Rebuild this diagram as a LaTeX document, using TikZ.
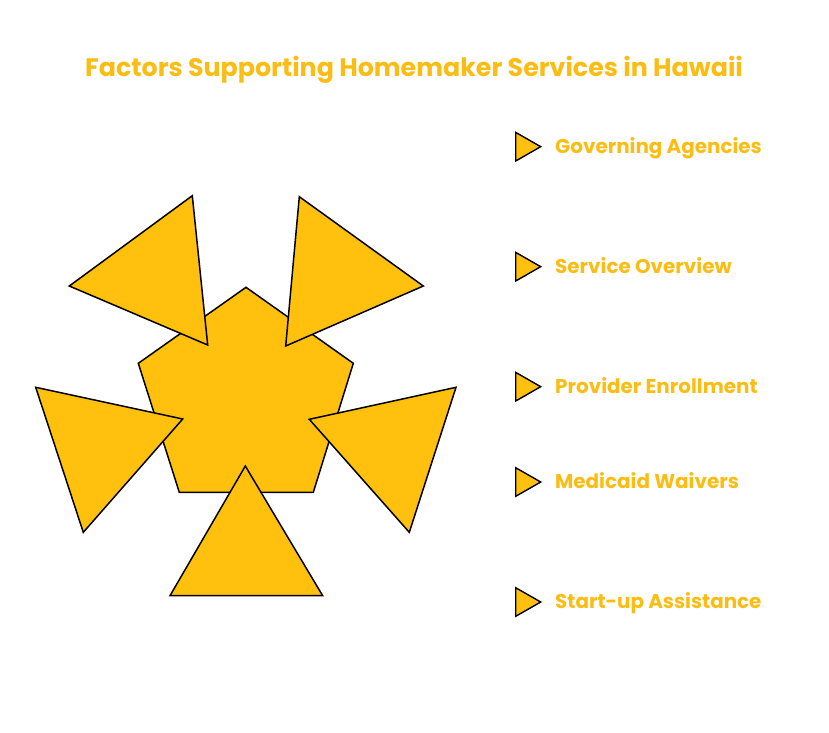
\documentclass[tikz,border=0pt]{standalone}
\usepackage{fontspec}
\setmainfont{Poppins}
\usepackage{tikz}
\usetikzlibrary{positioning}

\definecolor{amber}{HTML}{FFC10E}
\definecolor{titleamber}{HTML}{FBBC14}

\begin{document}
\begin{tikzpicture}[x=1pt, y=-1pt,
    piece/.style={draw=black, fill=amber, line width=1.5pt, line join=miter},
    marker/.style={draw=black, fill=amber, line width=1.4pt},
    heading/.style={anchor=base west, inner sep=0pt, text=titleamber, font=\bfseries\fontsize{19.9}{23}\selectfont}]
        % 画布大小
        \useasboundingbox (0, 0) rectangle (829, 732);

        % 标题
        \node[anchor=base, inner sep=0pt, text=titleamber, font=\bfseries\fontsize{25.3}{28}\selectfont]
            (title) at (414, 76) {Factors Supporting Homemaker Services in Hawaii};

        % 中间的五边形
        \coordinate (C) at (246, 400.6);
        \draw[piece] (246, 287.3) -- (353.3, 363.3) -- (313.3, 492.3)
            -- (179.3, 492.3) -- (138.3, 363.3) -- cycle;

        % 五个三角形, 尖端朝向中心
        \draw[piece] (192.3, 195.7) -- (69.3, 286) -- (207.7, 345) -- cycle; % 左上
        \draw[piece] (299.3, 196.7) -- (423.3, 286) -- (285.7, 346) -- cycle; % 右上
        \draw[piece] (35.7, 387.3) -- (182.7, 419) -- (83.3, 532.3) -- cycle; % 左
        \draw[piece] (456, 387.3) -- (309.3, 419.3) -- (409.3, 532.3) -- cycle; % 右
        \draw[piece] (245.3, 466) -- (322.7, 595.7) -- (170, 595.7) -- cycle; % 下

        % 右侧的小三角标记
        \draw[marker] (515.7, 132.4) -- (540.7, 146.7) -- (515.7, 161) -- cycle;
        \draw[marker] (515.7, 252.4) -- (540.7, 266.7) -- (515.7, 281) -- cycle;
        \draw[marker] (515.7, 372.4) -- (540.7, 386.7) -- (515.7, 401) -- cycle;
        \draw[marker] (515.7, 467.7) -- (540.7, 482) -- (515.7, 496.3) -- cycle;
        \draw[marker] (515.7, 587.7) -- (540.7, 602) -- (515.7, 616.3) -- cycle;

        % 各项标题
        \node[heading] (agencies) at (555, 153.3) {Governing Agencies};
        \node[heading] (overview) at (555, 273.3) {Service Overview};
        \node[heading] (enrollment) at (555, 393.3) {Provider Enrollment};
        \node[heading] (waivers) at (555, 488.7) {Medicaid Waivers};
        \node[heading] (startup) at (555, 608.7) {Start-up Assistance};
    \end{tikzpicture}
\end{document}
